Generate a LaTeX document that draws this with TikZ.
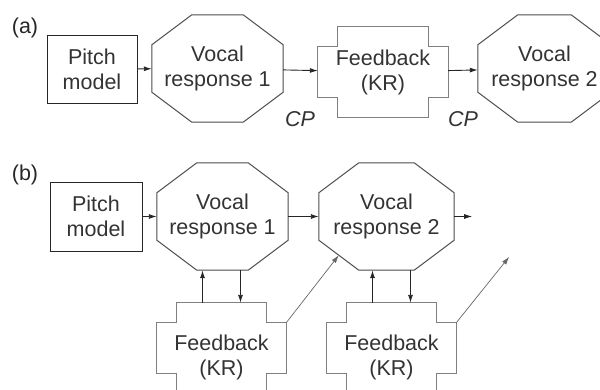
\documentclass[tikz,border=0pt]{standalone}
\usepackage{fontspec}
\setmainfont{Liberation Sans}
\usetikzlibrary{arrows.meta}
\tikzset{
    txt/.style={font=\fontsize{21.5}{25}\selectfont,text=black!80,align=center,inner sep=0pt},
    pbox/.style={txt,draw=black!85,line width=1pt},
    vnode/.style={txt,draw=none},
    fnode/.style={txt,draw=none},
    octline/.style={draw=black!70,line width=1pt,line join=miter},
    fbline/.style={draw=black!50,line width=1pt},
    lbl/.style={font=\fontsize{21.5}{25}\selectfont,text=black!85,inner sep=0pt},
    cp/.style={font=\fontsize{21.5}{25}\selectfont\itshape,text=black!80,inner sep=0pt},
    flow/.style={
        every edge/.style={draw=black!85,line width=0.9pt,-{Latex[length=8pt,width=5pt]}},
    },
    thin/.style={draw=black!60,line width=0.7pt,-{Latex[length=8pt,width=5pt]}},
}
\begin{document}
\begin{tikzpicture}[x=1pt,y=1pt,flow]
\useasboundingbox (0,0) rectangle (600,-389);
% (a)
\node[lbl] (la) at (25,-28) {(a)};
\node[pbox,minimum width=90pt,minimum height=68pt] (pA) at (92,-69) {Pitch\\model};
\node[vnode,minimum width=131pt,minimum height=107pt] (vA1) at (217.5,-68.5) {Vocal\\response 1};
\node[fnode,minimum width=130pt,minimum height=90pt] (fA) at (383,-72) {Feedback\\(KR)};
\node[vnode,minimum width=133pt,minimum height=107pt] (vA2) at (544.5,-68.5) {Vocal\\response 2};
\node[cp] (cp1) at (300,-119) {CP};
\node[cp] (cp2) at (463,-119) {CP};
% (b)
\node[lbl] (lb) at (25,-175) {(b)};
\node[pbox,minimum width=92pt,minimum height=69pt] (pB) at (96,-216.5) {Pitch\\model};
\node[vnode,minimum width=131pt,minimum height=107pt] (vB1) at (222.5,-216.5) {Vocal\\response 1};
\node[vnode,minimum width=135pt,minimum height=107pt] (vB2) at (386.5,-216.5) {Vocal\\response 2};
\node[fnode,minimum width=129pt,minimum height=90pt,
    label={[txt,yshift=-9pt]center:{Feedback\\(KR)}}] (fB1) at (221.5,-348) {};
\node[fnode,minimum width=129pt,minimum height=90pt,
    label={[txt,yshift=-9pt]center:{Feedback\\(KR)}}] (fB2) at (391.5,-348) {};
\coordinate (outB) at ([xshift=18pt]vB2.east);
\coordinate (freeB) at ([shift={(53pt,46pt)}]fB2.north east);

% octagons
\foreach \n in {vA1,vA2,vB1,vB2}
    \draw[octline] ([xshift=40pt]\n.north west) -- ([xshift=-40pt]\n.north east)
        -- ([yshift=-30pt]\n.north east) -- ([yshift=30pt]\n.south east)
        -- ([xshift=-40pt]\n.south east) -- ([xshift=40pt]\n.south west)
        -- ([yshift=30pt]\n.south west) -- ([yshift=-30pt]\n.north west) -- cycle;
% feedback outlines
\foreach \n in {fA,fB1,fB2}
    \draw[fbline] ([xshift=20pt]\n.north west) -- ([xshift=-20pt]\n.north east)
        -- ([shift={(-20pt,-20pt)}]\n.north east) -- ([yshift=-20pt]\n.north east)
        -- ([yshift=20pt]\n.south east) -- ([shift={(-20pt,20pt)}]\n.south east)
        -- ([xshift=-20pt]\n.south east) -- ([xshift=20pt]\n.south west)
        -- ([shift={(20pt,20pt)}]\n.south west) -- ([yshift=20pt]\n.south west)
        -- ([yshift=-20pt]\n.north west) -- ([shift={(20pt,-20pt)}]\n.north west) -- cycle;

\path
    (pA) edge (vA1)
    (vA1) edge (fA)
    (fA) edge (vA2)
    (pB) edge (vB1)
    (vB1) edge (vB2)
    (vB2.east) edge (outB)
    ([xshift=-19pt]fB1.north) edge ([xshift=-19pt]fB1.north |- vB1.south)
    ([xshift=19pt]fB1.north |- vB1.south) edge ([xshift=19pt]fB1.north)
    ([xshift=-19pt]fB2.north) edge ([xshift=-19pt]fB2.north |- vB2.south)
    ([xshift=19pt]fB2.north |- vB2.south) edge ([xshift=19pt]fB2.north)
;
\draw[thin] ([yshift=-20pt]fB1.north east) -- ([shift={(20pt,15pt)}]vB2.south west);
\draw[thin] ([yshift=-20pt]fB2.north east) -- (freeB);
\end{tikzpicture}
\end{document}
